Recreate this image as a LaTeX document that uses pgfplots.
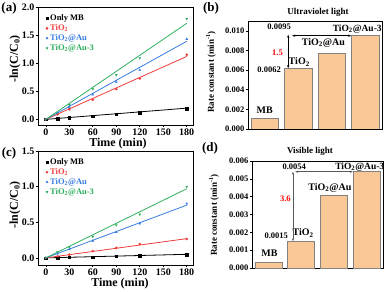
\documentclass[border=0pt]{standalone}
\usepackage{pgfplots}
\pgfplotsset{compat=1.18}
\usepackage{fontspec}
\setmainfont{Liberation Serif}
\usetikzlibrary{arrows.meta}
\definecolor{cr}{RGB}{240,60,60}
\definecolor{cb}{RGB}{55,125,225}
\definecolor{cg}{RGB}{45,175,95}
\definecolor{barf}{RGB}{250,200,150}
\definecolor{bare}{RGB}{130,130,130}
\newcommand{\fs}[1]{\bfseries\fontsize{#1}{#1}\selectfont}
\pgfplotsset{
 base/.style={scale only axis, anchor=south west, clip mode=individual,
   axis line style={line width=0.8pt}, tick style={line width=0.6pt, black},
   tick align=outside, xtick pos=bottom, ytick pos=left, major tick length=2.5pt,
   /pgf/number format/assume math mode=true},
 kin/.style={base, width=155pt, xmin=-10, xmax=188, ymin=-0.1,
   xtick={0,30,...,180}, ticklabel style={font=\fs{10}, inner sep=1pt},
   yticklabel style={/pgf/number format/fixed, /pgf/number format/fixed zerofill, /pgf/number format/precision=1},
   legend style={draw=none, fill=none, font=\fs{8.5}, at={(0.03,0.97)}, anchor=north west, row sep=-1.5pt},
   legend cell align=left},
 rate/.style={base, xmin=-0.5, xmax=3.5, ymin=0, xtick=\empty, ybar, bar width=0.82,
   ticklabel style={font=\fs{8.5}, inner sep=1pt}, scaled y ticks=false,
   yticklabel style={/pgf/number format/fixed, /pgf/number format/fixed zerofill, /pgf/number format/precision=3}},
 fit/.style={no marks, line width=0.8pt, forget plot},
 pt/.style={only marks, mark size=1.15pt},
}
\begin{document}
\begin{tikzpicture}
\useasboundingbox (0pt,0pt) rectangle (387pt,291pt);
% (a)
\begin{axis}[kin, at={(38pt,166pt)}, height=118pt, ymax=2.0, ytick={0,0.5,1,1.5,2}]
\addplot[pt, black, mark=square*] coordinates {(0,0) (15,0.01) (30,0.03) (60,0.06) (90,0.09) (120,0.12) (180,0.19)};
\addlegendentry{Only MB}
\addplot[pt, cr, mark=*] coordinates {(0,0) (15,0.09) (30,0.18) (60,0.35) (90,0.54) (120,0.73) (180,1.15)};
\addlegendentry{\textcolor{cr}{TiO\textsubscript{2}}}
\addplot[pt, cb, mark=triangle*] coordinates {(0,0) (15,0.11) (30,0.22) (60,0.44) (90,0.67) (120,0.88) (180,1.43)};
\addlegendentry{\textcolor{cb}{TiO\textsubscript{2}@Au}}
\addplot[pt, cg, mark=triangle*, mark options={rotate=180}] coordinates {(0,0) (15,0.12) (30,0.26) (60,0.54) (90,0.79) (120,1.09) (180,1.79)};
\addlegendentry{\textcolor{cg}{TiO\textsubscript{2}@Au-3}}
\addplot[fit, black] coordinates {(0,0) (180,0.20)};
\addplot[fit, cr] coordinates {(0,0) (180,1.12)};
\addplot[fit, cb] coordinates {(0,0) (180,1.39)};
\addplot[fit, cg] coordinates {(0,0) (180,1.71)};
\end{axis}
% (c)
\begin{axis}[kin, at={(38pt,26pt)}, height=114pt, ymax=1.5, ytick={0,0.5,1,1.5}]
\addplot[pt, black, mark=square*] coordinates {(0,0) (15,0.002) (30,0.005) (60,0.014) (90,0.02) (120,0.03) (180,0.045)};
\addlegendentry{Only MB}
\addplot[pt, cr, mark=*] coordinates {(0,0) (15,0.02) (30,0.045) (60,0.095) (90,0.14) (120,0.195) (180,0.265)};
\addlegendentry{\textcolor{cr}{TiO\textsubscript{2}}}
\addplot[pt, cb, mark=triangle*] coordinates {(0,0) (15,0.06) (30,0.12) (60,0.24) (90,0.36) (120,0.48) (180,0.76)};
\addlegendentry{\textcolor{cb}{TiO\textsubscript{2}@Au}}
\addplot[pt, cg, mark=triangle*, mark options={rotate=180}] coordinates {(0,0) (15,0.08) (30,0.15) (60,0.3) (90,0.46) (120,0.61) (180,1.0)};
\addlegendentry{\textcolor{cg}{TiO\textsubscript{2}@Au-3}}
\addplot[fit, black] coordinates {(0,0) (180,0.05)};
\addplot[fit, cr] coordinates {(0,0) (180,0.27)};
\addplot[fit, cb] coordinates {(0,0) (180,0.74)};
\addplot[fit, cg] coordinates {(0,0) (180,0.97)};
\end{axis}
% (b)
\begin{axis}[rate, at={(248pt,162pt)}, width=134pt, height=108pt, ymax=0.011, ytick={0,0.002,0.004,0.006,0.008,0.010}]
\addplot[fill=barf, draw=bare, line width=0.5pt] coordinates {(0,0.0011) (1,0.0062) (2,0.0077) (3,0.0095)};
\node[font=\fs{10}] at (axis cs:0,0.0019) {MB};
\node[font=\fs{10}] at (axis cs:1.03,0.0068) {TiO\textsubscript{2}};
\node[font=\fs{8.5}] at (axis cs:0.13,0.0060) {0.0062};
\node[font=\fs{8.5}] at (axis cs:0.43,0.0104) {0.0095};
\node[font=\fs{8.5}, text=red] at (axis cs:0.38,0.0078) {1.5};
\node[font=\fs{10}] at (axis cs:1.75,0.0088) {TiO\textsubscript{2}@Au};
\node[font=\fs{9.5}] at (axis cs:2.76,0.0102) {TiO\textsubscript{2}@Au-3};
\draw[{Stealth[length=3pt]}-{Stealth[length=3pt]}, line width=0.6pt] (axis cs:0.70,0.0062) -- (axis cs:0.70,0.0096);
\draw[{Stealth[length=3pt]}-{Stealth[length=3pt]}, line width=0.6pt] (axis cs:0.82,0.0095) -- (axis cs:2.58,0.0095);
\end{axis}
% (d)
\begin{axis}[rate, at={(252pt,23pt)}, width=131pt, height=107pt, ymax=0.006, ytick={0,0.001,...,0.006}]
\addplot[fill=barf, draw=bare, line width=0.5pt] coordinates {(0,0.0003) (1,0.0015) (2,0.0041) (3,0.0054)};
\node[font=\fs{10}] at (axis cs:0.03,0.00084) {MB};
\node[font=\fs{10}] at (axis cs:1.06,0.00196) {TiO\textsubscript{2}};
\node[font=\fs{8.5}] at (axis cs:0.24,0.0018) {0.0015};
\node[font=\fs{8.5}] at (axis cs:0.79,0.00566) {0.0054};
\node[font=\fs{8.5}, text=red] at (axis cs:0.52,0.0039) {3.6};
\node[font=\fs{10}] at (axis cs:1.88,0.0045) {TiO\textsubscript{2}@Au};
\node[font=\fs{9.5}] at (axis cs:2.79,0.00566) {TiO\textsubscript{2}@Au-3};
\draw[{Stealth[length=3pt]}-{Stealth[length=3pt]}, line width=0.6pt, gray!70!black] (axis cs:0.75,0.0015) -- (axis cs:0.75,0.0054);
\draw[{Stealth[length=3pt]}-{Stealth[length=3pt]}, line width=0.6pt, gray!70!black] (axis cs:0.82,0.0054) -- (axis cs:2.58,0.0054);
\end{axis}
% labels
\node[font=\fs{13}] at (9pt,283pt) {(a)};
\node[font=\fs{13}] at (9pt,138pt) {(c)};
\node[font=\fs{13}] at (211pt,282.5pt) {(b)};
\node[font=\fs{13}] at (210pt,143pt) {(d)};
\node[font=\fs{12}, rotate=90] at (15pt,232pt) {-ln(C/C\textsubscript{0})};
\node[font=\fs{12}, rotate=90] at (15pt,86pt) {-ln(C/C\textsubscript{0})};
\node[font=\fs{12}] at (118pt,147.5pt) {Time (min)};
\node[font=\fs{12}] at (120pt,7.5pt) {Time (min)};
\node[font=\fs{9}] at (318pt,279pt) {Ultraviolet light};
\node[font=\fs{9}] at (310pt,140pt) {Visible light};
\node[font=\fs{9}, rotate=90] at (211pt,219pt) {Rate constant (min\textsuperscript{-1})};
\node[font=\fs{9}, rotate=90] at (214pt,76pt) {Rate constant (min\textsuperscript{-1})};
\end{tikzpicture}
\end{document}
